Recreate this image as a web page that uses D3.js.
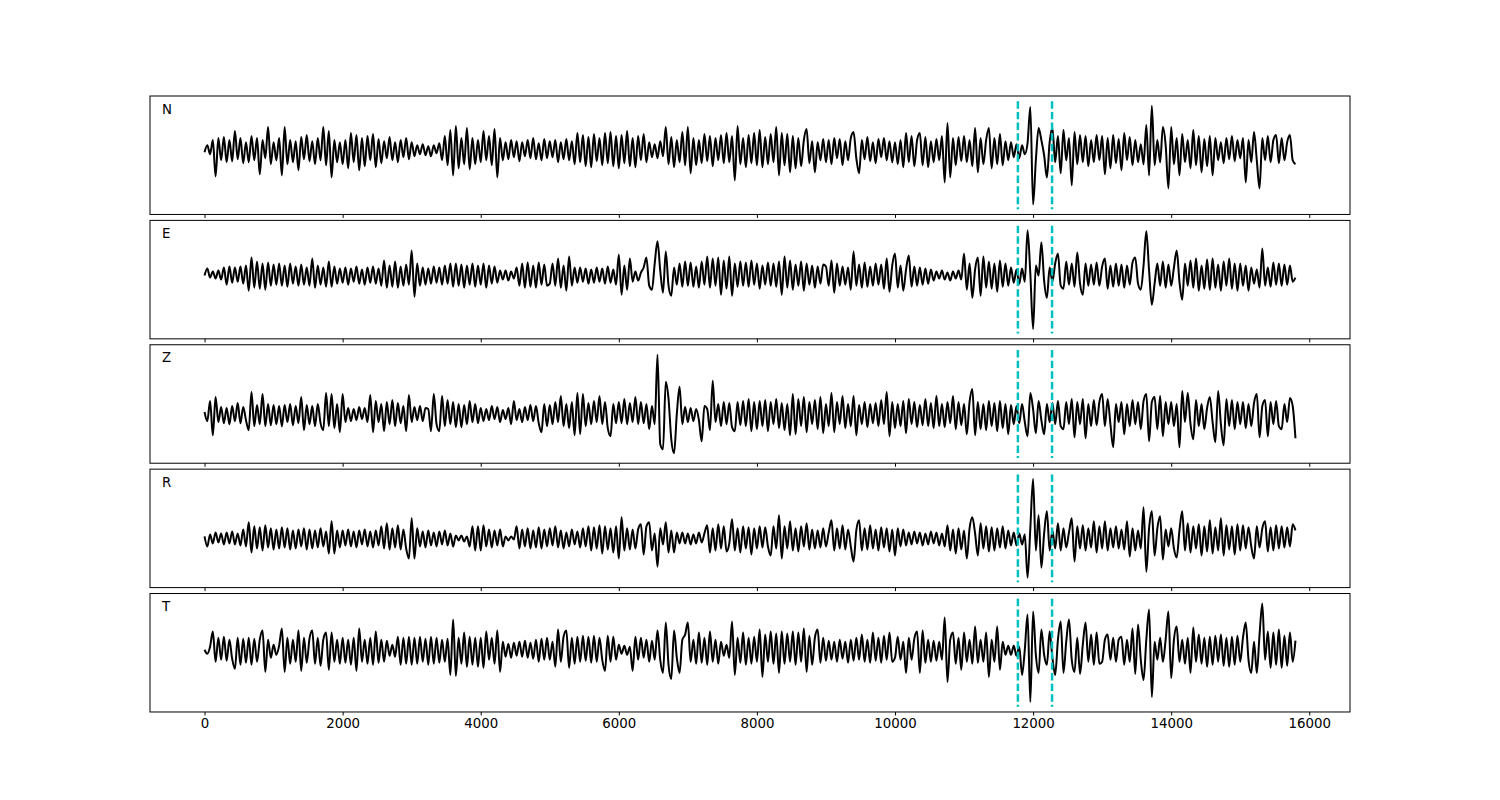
<!DOCTYPE html>
<html>
<head>
<meta charset="utf-8">
<script src="https://cdn.jsdelivr.net/npm/d3@7"></script>
<style>
  html, body { margin: 0; padding: 0; background: #ffffff; }
  svg { display: block; font-family: "DejaVu Sans", sans-serif; }
</style>
</head>
<body>
<svg id="chart" width="1500" height="800"></svg>
<script>
const channelNames = ["N", "E", "Z", "R", "T"];
const sampleStep = 40;            // time step between samples (0 … 15800)
const pickTimes = [11780, 12275]; // dashed cyan markers
const tickValues = [0, 2000, 4000, 6000, 8000, 10000, 12000, 14000, 16000];

const traceN = [
 -2,5,-4,10,-26,12,-10,13,-12,10,-11,19,-9,12,-13,8,-12,14,-10,12,-24,10,-8,23,-14,
 8,-10,12,-25,23,-14,10,-12,9,-20,13,-9,15,-11,9,-14,12,-10,23,-15,19,-27,10,-12,8,
 -14,10,-18,17,-12,15,-20,12,-16,14,-10,16,-17,11,-13,9,-8,13,-10,8,-12,10,-7,12,-9,
 8,-6,5,-4,6,-5,4,-6,5,-3,7,-10,14,-15,20,-25,24,-18,12,-14,22,-19,12,-14,10,
 -12,19,-10,14,-15,21,-27,12,-10,8,-9,10,-7,9,-11,8,-6,10,-8,12,-9,7,-10,11,-8,
 9,-7,10,-12,8,-9,11,-10,9,-14,17,-12,15,-16,13,-17,16,-11,12,-15,17,-13,18,-16,14,
 -18,15,-13,19,-16,12,-17,14,-10,16,-12,8,-7,6,-8,9,-6,23,-14,13,-17,10,-12,18,-15,
 23,-23,12,-15,10,-13,16,-11,14,-16,12,-10,15,-13,17,-12,14,-30,24,-14,12,-17,15,-13,17,
 -15,20,-17,13,-14,16,-12,23,-25,17,-15,16,-22,14,-18,12,-16,10,21,-13,9,-22,8,-10,11,
 -12,10,-14,12,-8,11,-15,9,-10,12,18,-8,-23,10,-9,13,-11,8,-13,11,-7,12,-10,9,-12,
 8,-14,10,-17,17,-12,14,-16,10,17,-15,13,-17,9,-12,11,-10,14,-32,27,-27,12,-15,13,-11,
 14,-12,10,-16,22,-22,12,-14,10,22,-18,12,-14,16,-15,9,-10,8,-7,6,-8,5,-4,7,43,
 -54,-10,22,10,-5,-27,8,22,-12,14,-23,20,-10,12,-35,18,-14,15,-12,14,-16,10,-12,15,-10,
 14,-24,12,-18,15,-13,11,-20,17,-10,13,-15,10,-12,6,-14,25,-25,44,-15,10,-12,23,5,-38,
 23,-14,12,-25,16,-12,10,-18,20,-15,14,-22,11,-16,14,-25,12,-10,8,-13,12,-9,14,-11,10,
 -8,12,-32,10,-12,18,-10,-38,12,-10,14,-12,10,15,-13,12,-10,8,15,-10,-14
];

const traceE = [
 0,7,-2,4,-3,5,-4,8,-9,9,-7,8,-6,9,-8,10,-15,18,-12,14,-13,12,-14,13,-10,
 11,-9,12,-10,10,-11,12,-8,9,-10,11,-9,8,-10,17,-12,10,-9,8,-11,14,-11,9,-8,7,
 -7,8,-9,7,-6,9,-8,6,-9,8,-7,9,-8,7,-10,15,-12,10,-11,14,-12,9,-10,11,-9,
 25,-21,12,-10,8,-9,7,-8,9,-7,8,-9,10,-8,12,-11,12,-10,11,-12,10,-9,12,-11,10,
 -9,12,-12,10,-8,9,-7,5,-4,5,-5,4,-3,8,-10,12,-12,13,-11,10,-12,13,-9,11,-10,
 -8,12,-10,17,-12,10,-15,19,-10,8,-7,8,-6,7,-8,6,-7,8,-6,7,-8,9,-7,6,-9,
 21,-19,10,-14,17,-6,4,-5,3,8,18,-10,-14,12,34,5,-17,24,-10,-20,8,-9,12,-11,14,
 -10,13,-11,9,-12,14,-9,19,-12,17,-10,18,-19,15,-13,19,-20,12,-11,14,-10,13,-11,15,-9,
 12,-13,10,-9,13,-10,12,-11,14,-19,19,-12,15,-14,11,-10,14,-15,12,-9,10,-12,9,-8,11,
 9,-10,15,-17,12,-10,9,-9,8,-14,24,-10,11,-12,13,-11,9,-10,12,-9,11,-13,17,-16,10,
 22,-12,10,-15,6,20,-11,9,-10,8,-9,7,-8,6,-5,4,-3,5,-4,3,-5,4,-3,5,-4,
 22,-14,12,-22,6,18,-20,19,-12,14,-13,12,-16,15,-11,12,-10,8,-7,6,-8,7,-6,45,2,
 -53,10,0,33,-5,-22,8,-6,12,22,-10,-13,14,-9,12,-11,23,-8,-19,12,-10,11,-9,13,-10,
 9,17,-13,10,-11,12,-10,11,-12,10,-9,13,18,-8,-14,10,44,5,-29,-8,12,-10,14,-12,11,
 -10,8,25,-6,-24,12,-10,15,-12,17,-15,10,-13,16,-14,17,-12,11,-15,14,-10,17,-13,12,-15,
 12,-10,10,-15,8,-8,6,-12,27,-10,8,-11,13,-9,12,-10,11,-9,10,-6,-2
];

const traceZ = [
 2,-7,13,-21,17,-8,7,-9,6,-10,8,-7,11,-9,7,-6,-16,22,-12,9,-10,20,-12,10,-11,
 9,-10,8,-12,9,-8,10,-11,8,-9,17,-16,9,-10,8,-12,10,-9,-16,21,-12,20,-14,10,-18,
 20,-8,6,-7,5,-6,7,-5,6,-8,19,-18,13,-8,10,-17,12,-10,14,-12,11,-9,8,-17,19,
 -8,7,-6,8,-7,6,5,-17,20,-10,-17,18,-12,14,-10,12,-13,10,-13,9,-10,13,-8,10,-9,
 6,-7,5,-6,8,-5,7,-8,4,-5,6,-10,13,-6,5,-8,7,-6,9,-7,8,-9,-18,10,-12,
 9,-10,12,-8,18,-12,10,-14,12,-21,21,-20,20,-12,11,-10,13,-8,18,-10,12,-14,-22,10,-9,
 12,-9,15,-10,11,-8,17,-10,12,-9,10,-15,8,-10,59,-30,-35,32,15,-25,-39,0,27,-10,7,
 -8,6,-7,5,-6,-27,8,5,-16,33,-8,10,-12,12,-10,11,-13,-17,12,-11,13,-12,15,-17,12,
 -15,13,-12,14,-17,12,-10,15,-14,11,-16,10,-21,20,-20,15,-12,17,-18,12,-10,14,-15,17,-19,
 10,-12,21,-18,12,-10,18,-14,10,-12,18,-21,9,-10,12,-13,10,-9,11,-12,14,-10,22,-22,12,
 -14,10,-12,13,-19,15,-10,12,-13,9,-11,15,-12,11,-14,18,-12,10,-13,12,-9,18,-15,12,-11,
 10,-20,12,25,-21,12,-15,10,-16,13,-12,11,-17,13,-14,10,-20,9,-10,8,-9,10,-8,-22,21,
 5,-19,13,-6,-20,10,-8,11,-10,13,-12,-15,12,-10,15,-23,12,-10,15,-24,10,-12,14,-11,12,
 20,-12,15,-10,-33,10,-8,12,-20,10,-12,14,-10,12,-15,13,20,-27,12,17,-15,18,-22,12,-10,
 12,-12,10,-33,23,-8,21,-10,-25,14,-12,10,-15,6,17,-8,-28,23,-10,-31,15,-12,14,-15,12,
 -10,12,-14,10,-12,11,20,-23,8,14,-22,12,-10,13,-12,-15,10,-8,16,8,-24
];

const traceR = [
 2,-8,4,-5,6,-4,5,-6,6,-5,7,-6,5,-7,9,-8,16,-14,12,-10,11,-12,13,-9,10,
 -11,9,-10,11,-9,10,-11,8,-10,9,-8,10,-11,9,-10,8,-9,10,-8,7,-15,17,-15,8,-9,
 8,-7,9,-8,7,-9,8,-6,9,-8,7,-9,8,-7,12,-10,15,-11,10,-9,13,-11,9,-10,-20,
 20,-20,10,-8,7,-9,8,-7,6,-8,7,-6,8,-7,5,-8,3,-2,3,-3,2,-8,12,-12,12,
 -12,13,-8,9,-9,8,-7,9,-8,2,-2,2,-1,12,-10,9,-8,10,-10,8,-9,11,-10,9,-8,
 10,-7,12,-9,8,-10,6,-8,9,-6,7,-9,10,-8,12,-12,11,-10,13,-15,12,-11,10,-14,12,
 -20,21,-12,10,-11,9,-10,9,14,-16,12,16,-12,5,-28,10,-6,16,-14,8,-14,6,-5,6,-5,
 5,-6,4,-5,6,-4,5,13,-14,10,-12,14,-10,12,-13,-5,19,-12,10,-14,12,-10,11,-16,10,
 -10,12,-9,11,-8,-17,12,-10,23,-20,12,-10,17,-12,10,-13,12,-8,15,-11,9,-10,8,-9,10,
 -8,6,18,-12,10,-10,13,-11,9,-8,-23,8,18,-12,10,-11,13,-10,9,-12,11,-9,10,-13,9,
 -17,10,-8,9,-7,6,-6,7,-5,6,-7,5,-6,7,-5,6,-7,5,-8,13,-12,9,-15,10,-11,
 8,-20,10,21,5,-17,15,-10,12,-13,11,-12,10,-9,12,-10,8,-7,6,-7,5,-6,4,-39,10,
 59,-12,23,-29,5,27,-12,8,-10,15,-12,10,-9,6,20,-23,12,-10,13,-12,10,-9,17,-14,12,
 -10,17,-12,10,-9,12,-10,9,-11,17,-18,10,-12,8,-10,31,-33,10,27,-17,10,22,-21,9,-8,
 10,-10,-19,8,27,-12,15,-14,12,-10,14,-17,12,-13,18,-15,11,-12,20,-17,13,-11,12,-16,14,
 -12,13,-10,11,-8,-20,12,-9,10,17,-13,11,-12,13,-10,12,-9,11,-8,14,8
];

const traceT = [
 0,-4,3,18,-12,12,-10,13,-11,10,-9,-19,12,-15,11,-13,12,-15,11,-12,10,19,-22,10,-8,
 5,-5,4,21,-22,12,-14,10,-12,19,-21,12,-13,11,19,-14,12,-16,10,17,-20,17,-12,10,-14,
 12,-13,10,-15,12,-21,21,-12,10,-14,12,-15,18,-13,10,-12,9,-6,5,-7,13,-15,12,-14,13,
 -15,12,-14,13,-12,11,-15,13,-14,12,-13,10,-12,11,-25,30,-26,12,-14,17,-17,13,-15,12,-17,
 12,-18,18,-10,12,-14,19,-22,8,-7,6,-8,7,-6,8,-7,9,-8,7,-9,10,-12,11,-10,12,
 -10,8,-17,20,-12,13,19,-18,12,-14,13,-12,14,-11,13,-13,14,-12,12,-10,-21,14,-12,13,-10,
 5,-4,4,-5,3,-21,13,-10,12,-8,10,-12,9,-10,19,-10,-23,27,-15,-29,19,-8,-23,10,15,
 27,-12,10,-14,17,-13,12,-15,18,-12,10,-14,8,-6,5,-8,28,-25,12,-13,17,-15,12,-14,13,
 -12,20,-27,15,-12,18,-14,16,-23,18,-14,16,-12,18,-15,17,-12,21,-22,14,-15,12,20,-13,12,
 -11,9,-10,8,-12,10,-9,8,-13,10,-11,12,-10,15,-12,10,-13,17,-11,12,-13,14,-10,17,-12,
 -8,13,-10,8,-23,12,-10,11,18,-23,19,-13,10,-12,9,-11,8,-10,32,-32,10,17,-14,12,-20,
 17,-12,10,-14,23,-13,10,-12,17,-27,10,-12,23,-20,8,-5,4,-5,4,-6,3,-25,0,35,-52,
 38,-5,-23,20,-5,-15,18,-8,-25,10,28,-23,8,30,-10,-22,12,-24,5,27,-12,15,-15,17,-14,
 -12,10,15,-10,12,-12,10,13,-15,10,-12,21,-24,25,-10,-30,10,40,-47,8,-10,12,-12,10,38,
 -28,10,23,-12,10,-14,12,-23,22,-12,15,-14,12,-17,13,-15,14,-12,15,-16,12,-17,13,-15,14,
 -12,12,27,-10,-23,8,-23,15,46,-10,18,-18,17,-15,20,-18,14,-16,17,-12,9
];

const traces = [traceN, traceE, traceZ, traceR, traceT];

// ---------------- layout ----------------
const W = 1500, H = 800;
const left = 150, right = 1350;
const figTop = 96, panelH = 118.46, panelGap = 5.92;

const svg = d3.select("#chart");
svg.append("rect").attr("width", W).attr("height", H).attr("fill", "#ffffff");

const x = d3.scaleLinear().domain([-790, 16590]).range([left, right]);

traces.forEach((vals, k) => {
  const top = figTop + k * (panelH + panelGap);
  const bottom = top + panelH;
  const lo = d3.min(vals), hi = d3.max(vals), pad = 0.1 * (hi - lo);
  const y = d3.scaleLinear().domain([lo - pad, hi + pad]).range([bottom, top]);

  const g = svg.append("g");

  const clipId = "clip" + k;
  g.append("clipPath").attr("id", clipId)
    .append("rect").attr("x", left).attr("y", top).attr("width", right - left).attr("height", panelH);

  const pts = vals.map((v, i) => [i * sampleStep, v]);
  const line = d3.line()
    .x(d => x(d[0]))
    .y(d => y(d[1]))
    .curve(d3.curveMonotoneX);

  g.append("path")
    .datum(pts)
    .attr("clip-path", `url(#${clipId})`)
    .attr("fill", "none")
    .attr("stroke", "#000000")
    .attr("stroke-width", 2)
    .attr("stroke-linejoin", "round")
    .attr("d", line);

  // pick markers
  g.selectAll("line.pick")
    .data(pickTimes)
    .join("line")
    .attr("class", "pick")
    .attr("x1", d => x(d)).attr("x2", d => x(d))
    .attr("y1", top + 0.045 * panelH)
    .attr("y2", bottom - 0.045 * panelH)
    .attr("stroke", "#00bfbf")
    .attr("stroke-width", 2.5)
    .attr("stroke-dasharray", "7.4,3.2");

  // frame
  g.append("rect")
    .attr("x", left).attr("y", top)
    .attr("width", right - left).attr("height", panelH)
    .attr("fill", "none").attr("stroke", "#000000").attr("stroke-width", 1);

  // bottom axis (labels on last panel only)
  const axis = d3.axisBottom(x)
    .tickValues(tickValues)
    .tickSize(3.5)
    .tickPadding(3.5)
    .tickFormat(k === traces.length - 1 ? d3.format("d") : () => "");
  const ag = g.append("g").attr("transform", `translate(0,${bottom})`).call(axis);
  ag.select(".domain").remove();
  ag.selectAll("line").attr("stroke", "#000000").attr("stroke-width", 1);
  ag.selectAll("text")
    .attr("fill", "#000000")
    .style("font-family", "'DejaVu Sans', sans-serif")
    .style("font-size", "13.33px");

  // channel label
  g.append("text")
    .attr("x", left + 12)
    .attr("y", top + 17.5)
    .attr("fill", "#000000")
    .style("font-family", "'DejaVu Sans', sans-serif")
    .style("font-size", "13.33px")
    .text(channelNames[k]);
});
</script>
</body>
</html>
